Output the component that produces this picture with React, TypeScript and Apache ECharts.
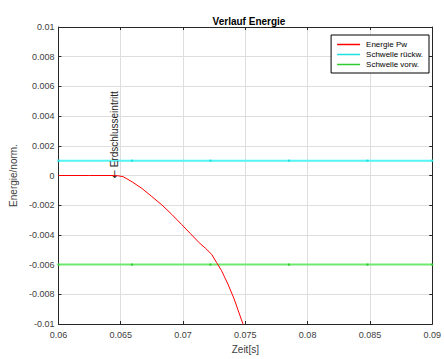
import React, { useEffect, useRef } from "react";
import * as echarts from "echarts";

const energyX = [0.06, 0.0625, 0.0644, 0.0648, 0.0652, 0.0659, 0.0667, 0.0675, 0.0683, 0.0691, 0.0699, 0.0706, 0.0713, 0.0718, 0.0723, 0.0727, 0.0731, 0.0736, 0.0741, 0.0748, 0.0752];
const energyY = [0, 0, 0, -0.00002, -0.00008, -0.00042, -0.00087, -0.00142, -0.00198, -0.00262, -0.00331, -0.00392, -0.00453, -0.00490, -0.00531, -0.00587, -0.00642, -0.00731, -0.00831, -0.00998, -0.0112];
const thresholdX = [0.06, 0.0659, 0.0722, 0.0785, 0.0848, 0.09];
const thresholdBack = 0.001;
const thresholdFwd = -0.006;
const annotationX = 0.06443;
const annotationY = 0;
const annotationText = "Erdschlusseintritt";

const fmt = (v: number) => String(parseFloat(v.toFixed(4)));

export default function App() {
  const ref = useRef<HTMLDivElement>(null);
  useEffect(() => {
    if (!ref.current) return;
    const chart = echarts.init(ref.current, undefined, { renderer: "svg" });
    const font = "Liberation Sans, Arial, Helvetica, sans-serif";
    const axisColor = "#262626";
    const gridColor = "#dedede";
    chart.setOption({
      animation: false,
      textStyle: { fontFamily: font },
      title: {
        text: "Verlauf Energie",
        left: 244,
        top: 11,
        textAlign: "center",
        textStyle: { fontSize: 10, fontWeight: "bold", color: "#000", fontFamily: font },
      },
      legend: {
        orient: "vertical",
        right: 15,
        top: 35,
        backgroundColor: "#fff",
        borderColor: "#000",
        borderWidth: 1,
        borderRadius: 0,
        padding: [5, 6, 4, 6],
        itemGap: 1,
        itemWidth: 23,
        itemHeight: 1.5,
        icon: "rect",
        textStyle: { fontSize: 8, color: "#000", fontFamily: font, padding: [0, 0, 0, 1], lineHeight: 9 },
        data: ["Energie Pw", "Schwelle rückw.", "Schwelle vorw."],
      },
      grid: { left: 55, right: 10, top: 27, bottom: 32, containLabel: false },
      xAxis: [
        {
          type: "value",
          min: 0.06,
          max: 0.09,
          interval: 0.005,
          name: "Zeit[s]",
          nameLocation: "middle",
          nameGap: 20,
          nameTextStyle: { fontSize: 10, color: "#404040", fontFamily: font },
          axisLine: { show: true, onZero: false, lineStyle: { color: axisColor, width: 1 } },
          axisTick: { show: true, inside: true, length: 3, lineStyle: { color: axisColor } },
          axisLabel: { fontSize: 9, color: "#404040", margin: 6, formatter: fmt, fontFamily: font },
          splitLine: { show: true, lineStyle: { color: gridColor, width: 1 } },
        },
        {
          type: "value",
          position: "top",
          min: 0.06,
          max: 0.09,
          interval: 0.005,
          axisLine: { show: true, onZero: false, lineStyle: { color: axisColor, width: 1 } },
          axisTick: { show: true, inside: true, length: 3, lineStyle: { color: axisColor } },
          axisLabel: { show: false },
          splitLine: { show: false },
        },
      ],
      yAxis: [
        {
          type: "value",
          min: -0.01,
          max: 0.01,
          interval: 0.002,
          name: "Energie/norm.",
          nameLocation: "middle",
          nameGap: 38,
          nameTextStyle: { fontSize: 10, color: "#404040", fontFamily: font },
          axisLine: { show: true, onZero: false, lineStyle: { color: axisColor, width: 1 } },
          axisTick: { show: true, inside: true, length: 3, lineStyle: { color: axisColor } },
          axisLabel: { fontSize: 9, color: "#404040", margin: 4, formatter: fmt, fontFamily: font },
          splitLine: { show: true, lineStyle: { color: gridColor, width: 1 } },
        },
        {
          type: "value",
          position: "right",
          min: -0.01,
          max: 0.01,
          interval: 0.002,
          axisLine: { show: true, onZero: false, lineStyle: { color: axisColor, width: 1 } },
          axisTick: { show: true, inside: true, length: 3, lineStyle: { color: axisColor } },
          axisLabel: { show: false },
          splitLine: { show: false },
        },
      ],
      series: [
        {
          name: "Energie Pw",
          type: "line",
          data: energyX.map((x, i) => [x, energyY[i]]),
          showSymbol: false,
          symbol: "none",
          color: "#ff0000",
          lineStyle: { color: "#ff0000", width: 1 },
          clip: true,
          z: 5,
          markPoint: {
            symbol: "circle",
            symbolSize: 0,
            data: [
              {
                coord: [annotationX, annotationY],
                label: {
                  show: true,
                  formatter: "{a|\u2190} " + annotationText,
                  rotate: 90,
                  position: "inside",
                  align: "left",
                  verticalAlign: "middle",
                  offset: [-3, 1],
                  fontSize: 10,
                  color: "#262626",
                  fontFamily: font,
                  rich: {
                    a: { fontFamily: "DejaVu Sans", fontSize: 10, color: "#262626" },
                  },
                },
              },
            ],
          },
        },
        {
          name: "Schwelle rückw.",
          type: "line",
          data: thresholdX.map((x) => [x, thresholdBack]),
          showSymbol: true,
          symbol: "rect",
          symbolSize: 2,
          color: "#55f5f5",
          itemStyle: { color: "#1ee0e0" },
          lineStyle: { color: "#55f5f5", width: 2 },
          z: 4,
        },
        {
          name: "Schwelle vorw.",
          type: "line",
          data: thresholdX.map((x) => [x, thresholdFwd]),
          showSymbol: true,
          symbol: "rect",
          symbolSize: 2,
          color: "#6ee86e",
          itemStyle: { color: "#2ecc2e" },
          lineStyle: { color: "#6ee86e", width: 2 },
          z: 4,
        },
      ],
    });
    return () => chart.dispose();
  }, []);
  return <div ref={ref} style={{ width: 444, height: 359, position: "absolute", left: 0, top: 0, background: "#fff" }} />;
}
